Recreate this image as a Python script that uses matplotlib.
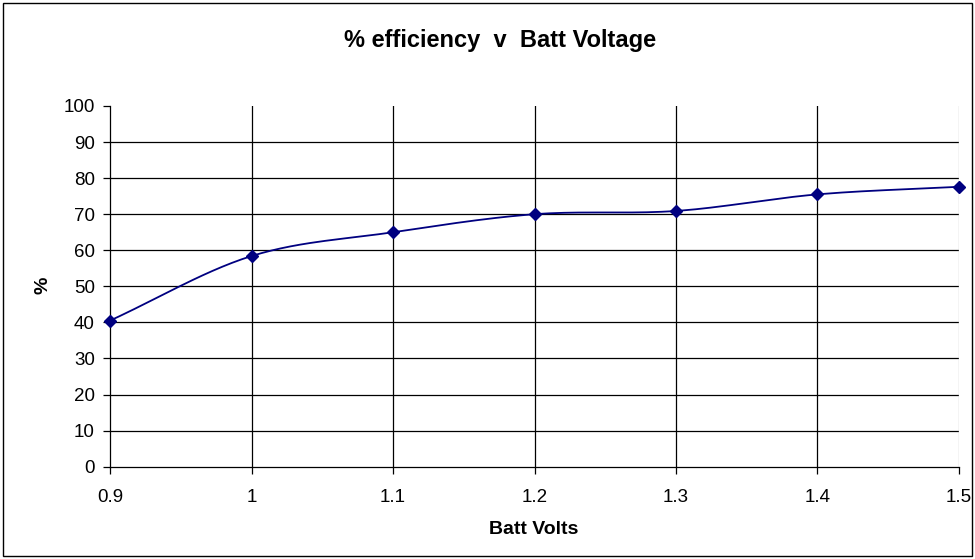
import numpy as np
import matplotlib.pyplot as plt
from matplotlib.patches import Rectangle

plt.rcParams['font.family'] = ['Liberation Sans', 'DejaVu Sans']

# data
volts = [0.9, 1.0, 1.1, 1.2, 1.3, 1.4, 1.5]
efficiency = [40.5, 58.4, 65.0, 70.0, 70.9, 75.5, 77.6]
y_ticks = list(range(0, 101, 10))
x_ticks = [0.9, 1.0, 1.1, 1.2, 1.3, 1.4, 1.5]
x_tick_labels = ['0.9', '1', '1.1', '1.2', '1.3', '1.4', '1.5']


def smooth(x, y, n=30):
    # Catmull-Rom style curve through the points, like Excel's smoothed line
    x = np.asarray(x, float)
    y = np.asarray(y, float)
    px = np.concatenate([[2 * x[0] - x[1]], x, [2 * x[-1] - x[-2]]])
    py = np.concatenate([[2 * y[0] - y[1]], y, [2 * y[-1] - y[-2]]])
    xs, ys = [], []
    t = np.linspace(0, 1, n)
    for i in range(1, len(px) - 2):
        p0x, p1x, p2x, p3x = px[i - 1:i + 3]
        p0y, p1y, p2y, p3y = py[i - 1:i + 3]
        c1x, c1y = p1x + (p2x - p0x) / 6, p1y + (p2y - p0y) / 6
        c2x, c2y = p2x - (p3x - p1x) / 6, p2y - (p3y - p1y) / 6
        bx = (1 - t) ** 3 * p1x + 3 * (1 - t) ** 2 * t * c1x + 3 * (1 - t) * t ** 2 * c2x + t ** 3 * p2x
        by = (1 - t) ** 3 * p1y + 3 * (1 - t) ** 2 * t * c1y + 3 * (1 - t) * t ** 2 * c2y + t ** 3 * p2y
        xs.extend(bx)
        ys.extend(by)
    return np.array(xs), np.array(ys)


fig = plt.figure(figsize=(9.75, 5.59), dpi=100)
ax = fig.add_axes([110 / 975, 1 - 466.7 / 559, (959 - 110) / 975, (466.7 - 106) / 559])

sx, sy = smooth(volts, efficiency)
ax.plot(sx, sy, color='#000080', lw=1.3, zorder=3, clip_on=False)
ax.plot(volts, efficiency, ls='none', marker='D', ms=6.5, color='#000080', zorder=4, clip_on=False)

ax.set_xlim(0.9, 1.5)
ax.set_ylim(0, 100)
ax.set_xticks(x_ticks)
ax.set_xticklabels(x_tick_labels)
ax.set_yticks(y_ticks)

for v in y_ticks[1:-1]:
    ax.axhline(v, color='black', lw=0.9, zorder=1)
for v in x_ticks[1:-1]:
    ax.axvline(v, color='black', lw=0.9, zorder=1)
ax.axvline(x_ticks[-1], color='#c8c8c8', lw=1, zorder=1)

for s in ['top', 'right']:
    ax.spines[s].set_visible(False)
for s in ['left', 'bottom']:
    ax.spines[s].set_linewidth(0.9)

ax.tick_params(axis='both', direction='out', length=5, width=0.9, labelsize=13.5, colors='black')
ax.tick_params(axis='x', pad=11)
ax.tick_params(axis='y', pad=6)

fig.text(500 / 975, 1 - 41 / 559, '% efficiency  v  Batt Voltage', ha='center', va='center',
         fontsize=17, fontweight='bold')
fig.text(534 / 975, 1 - 529 / 559, 'Batt Volts', ha='center', va='center',
         fontsize=14, fontweight='bold')
fig.text(42.5 / 975, 1 - 285 / 559, '%', ha='center', va='center', rotation=90,
         fontsize=14, fontweight='bold')

fig.patches.append(Rectangle((3 / 975, 3 / 559), 969 / 975, 553 / 559, transform=fig.transFigure,
                             fill=False, edgecolor='black', lw=1))

fig.savefig('out.png', dpi=100)
